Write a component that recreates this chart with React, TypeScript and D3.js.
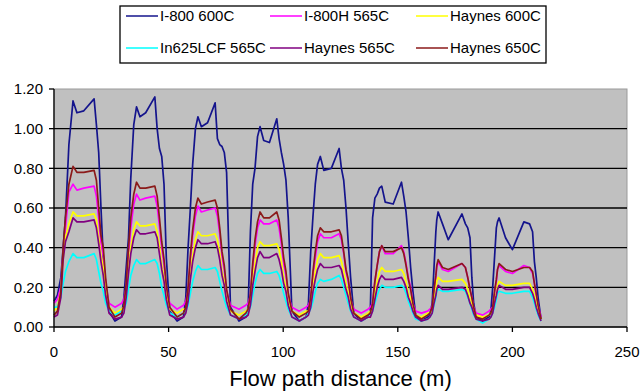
import React from "react";
import * as d3 from "d3";

// Distance along the flow path (m) at which each series is sampled
const distance = [
  0, 1.5, 3, 4, 5, 6.5, 8.3, 10, 13, 17.5, 18.5, 19.5, 20.5, 21.5, 22.5, 24, 26.6, 29.5,
  30.5, 31.5, 32.5, 33.5, 34.8, 36, 37.5, 40, 44, 45, 46, 47, 48, 49, 50.5, 53.7, 56.5,
  57.5, 58.5, 59.5, 60.5, 61.7, 62.8, 64.3, 67, 70.3, 71.3, 72.3, 73.3, 74.3, 75.3, 77, 80.7, 83.7,
  84.7, 85.7, 86.7, 87.7, 88.8, 89.9, 91.5, 94, 97.2, 98.2, 99.2, 100.2, 101.2, 102.2, 103.8, 107, 110,
  111, 112, 113, 114, 115, 116.2, 117.7, 121, 124.4, 125.4, 126.4, 127.4, 128.4, 129.4, 130.8, 134, 137,
  138, 139, 140, 141, 142, 143, 144.5, 148, 151.6, 152.6, 153.6, 154.6, 155.6, 156.6, 157.8, 160.3, 163,
  164, 165, 165.8, 166.6, 167, 167.6, 169.5, 172, 178, 179.5, 180.5, 181.5, 182.3, 183.1, 184.2, 187, 189.8,
  190.6, 191.4, 192.2, 193, 193.5, 194.2, 197, 200, 205, 207.5, 208.8, 209.6, 210.4, 211.2, 212.5,
];

const i800_600C = [
  0.13, 0.16, 0.25, 0.40, 0.55, 0.92, 1.14, 1.08, 1.09, 1.15, 1.02, 0.88, 0.60, 0.35, 0.20, 0.08, 0.03, 0.05,
  0.15, 0.30, 0.45, 0.75, 1.02, 1.11, 1.06, 1.08, 1.16, 1.00, 0.90, 0.86, 0.72, 0.35, 0.08, 0.03, 0.05,
  0.15, 0.40, 0.60, 0.82, 1.00, 1.06, 1.01, 1.03, 1.13, 0.95, 0.92, 0.91, 0.88, 0.78, 0.10, 0.03, 0.05,
  0.10, 0.48, 0.72, 0.80, 0.96, 1.01, 0.94, 0.93, 1.05, 0.95, 0.88, 0.82, 0.74, 0.55, 0.08, 0.03, 0.05,
  0.12, 0.38, 0.56, 0.72, 0.82, 0.86, 0.79, 0.80, 0.90, 0.80, 0.74, 0.60, 0.42, 0.25, 0.07, 0.03, 0.05,
  0.08, 0.55, 0.65, 0.67, 0.70, 0.71, 0.63, 0.62, 0.73, 0.66, 0.58, 0.45, 0.30, 0.18, 0.06, 0.03, 0.05,
  0.06, 0.12, 0.30, 0.48, 0.54, 0.58, 0.52, 0.44, 0.57, 0.52, 0.50, 0.45, 0.25, 0.12, 0.05, 0.03, 0.05,
  0.08, 0.20, 0.35, 0.50, 0.53, 0.55, 0.45, 0.39, 0.53, 0.52, 0.48, 0.33, 0.25, 0.15, 0.04,
];

const i800H_565C = [
  0.12, 0.14, 0.20, 0.38, 0.50, 0.68, 0.72, 0.69, 0.70, 0.71, 0.66, 0.55, 0.42, 0.36, 0.22, 0.12, 0.10, 0.12,
  0.14, 0.20, 0.37, 0.50, 0.62, 0.67, 0.64, 0.65, 0.66, 0.61, 0.51, 0.40, 0.32, 0.20, 0.12, 0.09, 0.11,
  0.13, 0.18, 0.34, 0.46, 0.56, 0.61, 0.58, 0.59, 0.60, 0.56, 0.47, 0.36, 0.29, 0.18, 0.11, 0.09, 0.11,
  0.12, 0.16, 0.30, 0.41, 0.50, 0.54, 0.52, 0.52, 0.54, 0.50, 0.42, 0.32, 0.26, 0.16, 0.10, 0.08, 0.10,
  0.11, 0.14, 0.26, 0.35, 0.43, 0.47, 0.45, 0.45, 0.47, 0.44, 0.37, 0.28, 0.23, 0.14, 0.09, 0.07, 0.09,
  0.10, 0.12, 0.23, 0.31, 0.38, 0.41, 0.37, 0.37, 0.41, 0.38, 0.32, 0.25, 0.20, 0.12, 0.08, 0.07, 0.08,
  0.09, 0.10, 0.18, 0.25, 0.30, 0.33, 0.29, 0.28, 0.32, 0.30, 0.25, 0.19, 0.15, 0.10, 0.07, 0.06, 0.08,
  0.09, 0.10, 0.17, 0.23, 0.29, 0.31, 0.28, 0.27, 0.31, 0.30, 0.27, 0.22, 0.16, 0.11, 0.05,
];

const haynes_600C = [
  0.08, 0.10, 0.18, 0.35, 0.45, 0.52, 0.58, 0.56, 0.56, 0.57, 0.54, 0.45, 0.36, 0.30, 0.20, 0.10, 0.07, 0.09,
  0.10, 0.16, 0.29, 0.40, 0.49, 0.53, 0.51, 0.51, 0.52, 0.48, 0.41, 0.31, 0.25, 0.16, 0.09, 0.07, 0.09,
  0.09, 0.14, 0.26, 0.36, 0.44, 0.48, 0.46, 0.46, 0.47, 0.44, 0.37, 0.28, 0.23, 0.14, 0.08, 0.06, 0.08,
  0.09, 0.13, 0.24, 0.32, 0.40, 0.43, 0.41, 0.41, 0.42, 0.39, 0.33, 0.25, 0.20, 0.13, 0.08, 0.06, 0.08,
  0.08, 0.11, 0.20, 0.28, 0.34, 0.37, 0.35, 0.35, 0.36, 0.33, 0.28, 0.22, 0.17, 0.11, 0.07, 0.05, 0.07,
  0.08, 0.09, 0.17, 0.23, 0.28, 0.30, 0.28, 0.28, 0.29, 0.27, 0.23, 0.17, 0.14, 0.09, 0.06, 0.05, 0.07,
  0.07, 0.08, 0.14, 0.19, 0.23, 0.25, 0.23, 0.23, 0.24, 0.22, 0.19, 0.14, 0.12, 0.08, 0.06, 0.05, 0.06,
  0.07, 0.08, 0.13, 0.17, 0.21, 0.23, 0.21, 0.21, 0.22, 0.22, 0.19, 0.16, 0.12, 0.08, 0.04,
];

const in625LCF_565C = [
  0.10, 0.10, 0.15, 0.22, 0.28, 0.33, 0.37, 0.35, 0.35, 0.37, 0.34, 0.28, 0.22, 0.18, 0.12, 0.08, 0.06, 0.08,
  0.09, 0.12, 0.19, 0.26, 0.31, 0.34, 0.32, 0.32, 0.34, 0.32, 0.27, 0.20, 0.16, 0.11, 0.07, 0.05, 0.07,
  0.08, 0.11, 0.17, 0.23, 0.28, 0.31, 0.29, 0.29, 0.30, 0.28, 0.23, 0.18, 0.14, 0.10, 0.06, 0.04, 0.06,
  0.08, 0.10, 0.16, 0.22, 0.27, 0.29, 0.27, 0.27, 0.28, 0.26, 0.22, 0.17, 0.13, 0.09, 0.05, 0.03, 0.05,
  0.07, 0.09, 0.13, 0.18, 0.22, 0.24, 0.23, 0.24, 0.26, 0.24, 0.20, 0.16, 0.12, 0.08, 0.05, 0.03, 0.05,
  0.06, 0.08, 0.12, 0.16, 0.19, 0.21, 0.20, 0.20, 0.21, 0.20, 0.17, 0.13, 0.10, 0.07, 0.04, 0.03, 0.04,
  0.05, 0.07, 0.11, 0.15, 0.18, 0.19, 0.18, 0.18, 0.19, 0.18, 0.15, 0.12, 0.09, 0.06, 0.04, 0.02, 0.04,
  0.05, 0.07, 0.10, 0.14, 0.17, 0.18, 0.17, 0.17, 0.18, 0.18, 0.15, 0.12, 0.09, 0.06, 0.03,
];

const haynes_565C = [
  0.05, 0.06, 0.15, 0.34, 0.43, 0.48, 0.55, 0.53, 0.53, 0.54, 0.50, 0.42, 0.33, 0.26, 0.16, 0.07, 0.04, 0.05,
  0.07, 0.15, 0.27, 0.37, 0.45, 0.49, 0.47, 0.47, 0.48, 0.45, 0.37, 0.29, 0.23, 0.14, 0.06, 0.04, 0.05,
  0.07, 0.13, 0.24, 0.33, 0.40, 0.44, 0.42, 0.42, 0.43, 0.40, 0.34, 0.26, 0.21, 0.13, 0.06, 0.04, 0.05,
  0.06, 0.11, 0.21, 0.28, 0.35, 0.38, 0.35, 0.35, 0.37, 0.34, 0.29, 0.22, 0.18, 0.11, 0.05, 0.03, 0.05,
  0.06, 0.10, 0.18, 0.24, 0.29, 0.32, 0.30, 0.30, 0.31, 0.29, 0.24, 0.19, 0.15, 0.09, 0.05, 0.03, 0.05,
  0.05, 0.08, 0.14, 0.20, 0.24, 0.26, 0.24, 0.24, 0.25, 0.23, 0.20, 0.15, 0.12, 0.08, 0.05, 0.03, 0.04,
  0.05, 0.07, 0.12, 0.16, 0.19, 0.21, 0.19, 0.19, 0.20, 0.19, 0.16, 0.12, 0.10, 0.07, 0.04, 0.03, 0.04,
  0.05, 0.07, 0.12, 0.16, 0.19, 0.21, 0.19, 0.19, 0.20, 0.20, 0.17, 0.14, 0.10, 0.07, 0.03,
];

const haynes_650C = [
  0.06, 0.08, 0.18, 0.40, 0.55, 0.72, 0.81, 0.78, 0.78, 0.79, 0.74, 0.60, 0.46, 0.40, 0.25, 0.10, 0.05, 0.07,
  0.11, 0.22, 0.40, 0.55, 0.67, 0.73, 0.70, 0.70, 0.71, 0.66, 0.55, 0.43, 0.34, 0.21, 0.10, 0.05, 0.07,
  0.10, 0.20, 0.36, 0.49, 0.60, 0.65, 0.62, 0.63, 0.64, 0.60, 0.50, 0.38, 0.31, 0.19, 0.09, 0.04, 0.07,
  0.09, 0.17, 0.32, 0.44, 0.53, 0.58, 0.55, 0.55, 0.58, 0.54, 0.45, 0.35, 0.28, 0.17, 0.08, 0.05, 0.07,
  0.08, 0.15, 0.28, 0.38, 0.46, 0.50, 0.48, 0.48, 0.49, 0.46, 0.38, 0.29, 0.24, 0.15, 0.07, 0.04, 0.06,
  0.07, 0.12, 0.23, 0.31, 0.38, 0.41, 0.38, 0.38, 0.40, 0.37, 0.31, 0.24, 0.19, 0.12, 0.06, 0.04, 0.06,
  0.07, 0.10, 0.19, 0.26, 0.31, 0.34, 0.30, 0.29, 0.32, 0.30, 0.25, 0.19, 0.15, 0.10, 0.05, 0.04, 0.06,
  0.07, 0.10, 0.18, 0.24, 0.29, 0.32, 0.29, 0.28, 0.30, 0.30, 0.28, 0.22, 0.17, 0.11, 0.04,
];

const seriesLabels = [
  "I-800 600C",
  "I-800H 565C",
  "Haynes 600C",
  "In625LCF 565C",
  "Haynes 565C",
  "Haynes 650C",
];
const seriesValues = [i800_600C, i800H_565C, haynes_600C, in625LCF_565C, haynes_565C, haynes_650C];
const seriesColors = ["#14148c", "#ff00ff", "#ffff00", "#00ffff", "#800080", "#8b1a1a"];

const xTicks = [0, 50, 100, 150, 200, 250];
const yTicks = [0, 0.2, 0.4, 0.6, 0.8, 1.0, 1.2];
const xTitle = "Flow path distance (m)";

const W = 641;
const H = 392;
const plot = { left: 54, right: 627, top: 89, bottom: 327 };
const FONT = "'Liberation Sans', Arial, sans-serif";

export default function App() {
  const x = d3.scaleLinear().domain([0, 250]).range([plot.left, plot.right]);
  const y = d3.scaleLinear().domain([0, 1.2]).range([plot.bottom, plot.top]);

  const line = d3
    .line<[number, number]>()
    .x((d) => x(d[0]))
    .y((d) => y(d[1]))
    .curve(d3.curveLinear);

  const paths = seriesValues.map((vals) =>
    line(distance.slice(0, vals.length).map((d, i) => [d, vals[i]] as [number, number]))
  );

  // legend layout: two rows of three entries
  const legend = { x: 120, y: 6, w: 426, h: 57 };
  const colX = [126, 270, 416];
  const rowY = [16, 48];

  return (
    <svg
      width={W}
      height={H}
      style={{ position: "absolute", left: 0, top: 0, background: "#fff" }}
      fontFamily={FONT}
    >
      <rect x={0} y={0} width={W} height={H} fill="#fff" />

      {/* plot area */}
      <rect
        x={plot.left}
        y={plot.top}
        width={plot.right - plot.left}
        height={plot.bottom - plot.top}
        fill="#c0c0c0"
        stroke="#9a9a9a"
        strokeWidth={1}
      />

      {/* horizontal gridlines */}
      {yTicks
        .filter((t) => t > 0 && t < 1.2)
        .map((t) => (
          <line
            key={"g" + t}
            x1={plot.left}
            x2={plot.right}
            y1={y(t)}
            y2={y(t)}
            stroke="#000"
            strokeWidth={1.3}
          />
        ))}

      {/* series */}
      {paths.map((p, i) => (
        <path
          key={seriesLabels[i]}
          d={p || ""}
          fill="none"
          stroke={seriesColors[i]}
          strokeWidth={1.7}
          strokeLinejoin="round"
        />
      ))}

      {/* axes */}
      <line x1={plot.left} x2={plot.left} y1={plot.top} y2={plot.bottom} stroke="#000" strokeWidth={1.3} />
      <line x1={plot.left} x2={plot.right} y1={plot.bottom} y2={plot.bottom} stroke="#000" strokeWidth={1.3} />

      {yTicks.map((t) => (
        <g key={"y" + t}>
          <line x1={plot.left - 5} x2={plot.left} y1={y(t)} y2={y(t)} stroke="#000" strokeWidth={1.3} />
          <text
            x={43}
            y={y(t)}
            dy="0.36em"
            textAnchor="end"
            fontSize={15}
            fill="#000"
          >
            {d3.format(".2f")(t)}
          </text>
        </g>
      ))}

      {xTicks.map((t) => (
        <g key={"x" + t}>
          <line x1={x(t)} x2={x(t)} y1={plot.bottom} y2={plot.bottom + 5} stroke="#000" strokeWidth={1.3} />
          <text x={x(t)} y={357} textAnchor="middle" fontSize={15} fill="#000">
            {t}
          </text>
        </g>
      ))}

      <text x={(plot.left + plot.right) / 2} y={386} textAnchor="middle" fontSize={22} fill="#000">
        {xTitle}
      </text>

      {/* legend */}
      <rect
        x={legend.x}
        y={legend.y}
        width={legend.w}
        height={legend.h}
        fill="#fff"
        stroke="#000"
        strokeWidth={1.3}
      />
      {seriesLabels.map((name, i) => {
        const cx = colX[i % 3];
        const cy = rowY[Math.floor(i / 3)];
        return (
          <g key={"l" + name}>
            <line x1={cx} x2={cx + 32} y1={cy} y2={cy} stroke={seriesColors[i]} strokeWidth={1.5} />
            <text x={cx + 34} y={cy} dy="0.36em" fontSize={15} fill="#000">
              {name}
            </text>
          </g>
        );
      })}
    </svg>
  );
}
